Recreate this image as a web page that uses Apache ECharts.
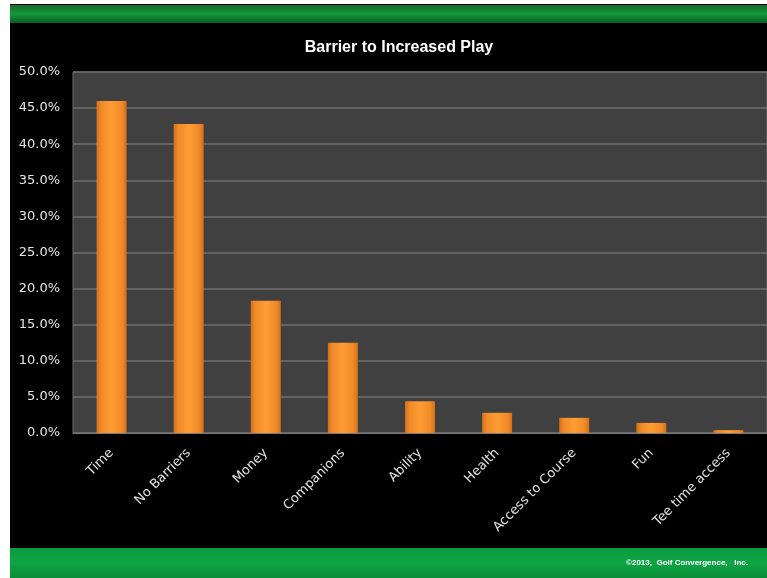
<!DOCTYPE html>
<html>
<head>
<meta charset="utf-8">
<script src="https://cdn.jsdelivr.net/npm/echarts@6/dist/echarts.min.js"></script>
<style>
html,body{margin:0;padding:0;background:#fff;}
#chart{width:767px;height:578px;}
</style>
</head>
<body>
<div id="chart"></div>
<script>
const categories = ['Time','No Barriers','Money','Companions','Ability','Health','Access to Course','Fun','Tee time access'];
const values = [46.0, 42.8, 18.3, 12.5, 4.4, 2.8, 2.1, 1.4, 0.4];
const yTicks = [0,5,10,15,20,25,30,35,40,45,50];
const titleText = 'Barrier to Increased Play';
const footerText = '\u00A92013,  Golf Convergence,   Inc.';

const chart = echarts.init(document.getElementById('chart'), null, {renderer:'canvas'});
chart.setOption({
  backgroundColor: '#ffffff',
  animation: false,
  title: {
    text: titleText,
    left: 394, top: 35, textAlign: 'center',
    textStyle: {color:'#ffffff', fontSize:16, fontWeight:'bold', fontFamily:'Liberation Sans'}
  },
  graphic: [
    {type:'rect', z:-10, shape:{x:10,y:4,width:757,height:574}, style:{fill:'#000000'}},
    {type:'rect', z:-9, shape:{x:10,y:5,width:757,height:18},
      style:{fill:new echarts.graphic.LinearGradient(0,0,0,1,[
        {offset:0,color:'#1a6a2a'},{offset:0.5,color:'#129a3c'},{offset:1,color:'#0c5a1e'}])}},
    {type:'rect', z:-9, shape:{x:10,y:548,width:757,height:30},
      style:{fill:new echarts.graphic.LinearGradient(0,0,0,1,[
        {offset:0,color:'#0a9a40'},{offset:0.5,color:'#0ea545'},{offset:1,color:'#0a8e38'}])}},
    {type:'text', z:5, style:{text:footerText, x:748, y:563, align:'right', verticalAlign:'middle',
      fill:'#ffffff', font:'bold 8px "Liberation Sans"'}}
  ],
  grid: {
    left:73, top:72, right:0, bottom:145, containLabel:false,
    show:true, backgroundColor:'#404040', borderColor:'#6a6a6a', borderWidth:1
  },
  xAxis: {
    type:'category', data:categories,
    axisLine:{show:true, lineStyle:{color:'#7a7a7a', width:1}},
    axisTick:{show:false},
    axisLabel:{rotate:45, color:'#e0e0e0', fontSize:13, fontFamily:'DejaVu Sans', margin:18, interval:0}
  },
  yAxis: {
    type:'value', min:0, max:50, interval:5,
    axisLine:{show:false}, axisTick:{show:false},
    splitLine:{show:true, lineStyle:{color:'#6e6e6e', width:1.5}},
    axisLabel:{color:'#e6e6e6', fontSize:13, fontFamily:'DejaVu Sans', margin:13,
      formatter: v => yTicks.includes(v) ? v.toFixed(1)+'%' : ''}
  },
  series: [{
    type:'bar', data:values, barWidth:30,
    itemStyle:{
      color:new echarts.graphic.LinearGradient(0,0,1,0,[
        {offset:0,color:'#d2701a'},{offset:0.15,color:'#f08a28'},{offset:0.5,color:'#ff9d34'},
        {offset:0.85,color:'#f08a28'},{offset:1,color:'#d2701a'}]),
      borderColor:'#ffc070', borderWidth:0
    }
  }]
});
</script>
</body>
</html>
